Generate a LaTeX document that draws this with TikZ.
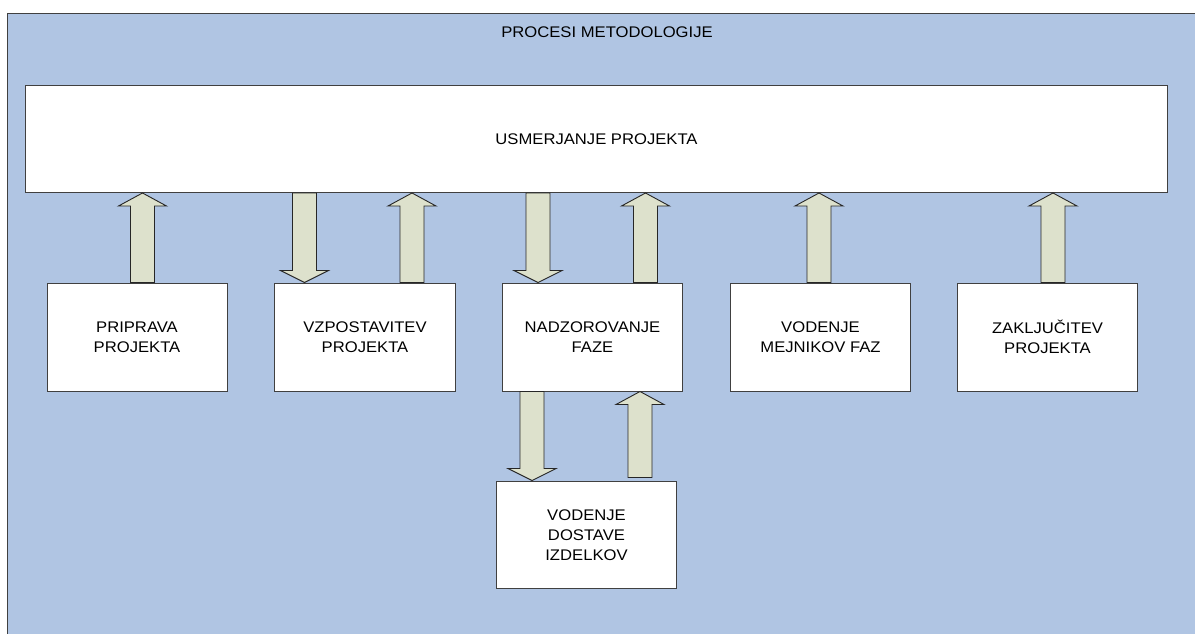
\documentclass[tikz,border=0pt]{standalone}
\usepackage{fontspec}
\setmainfont{Liberation Sans}
\newfontfamily\boxfont[FakeStretch=1.08]{Liberation Sans}
\usetikzlibrary{calc}
\definecolor{bgblue}{RGB}{176,197,227}
\definecolor{arrfill}{RGB}{221,225,204}
\definecolor{edgegray}{RGB}{64,64,64}
\tikzset{
  procbox/.style={draw=edgegray, line width=1pt, fill=white, anchor=north west,
    minimum width=180pt, minimum height=108pt, inner sep=0pt, align=center,
    font=\boxfont\fontsize{15.4pt}{20pt}\selectfont},
  blockarr/.style={draw=black!85, line width=0.9pt, fill=arrfill, line join=miter},
  lbl/.style={font=\boxfont\fontsize{15.4pt}{20pt}\selectfont, inner sep=0pt}
}
% up arrow: #1 x centre, #2 lower anchor, #3 upper anchor (tip)
\newcommand\blockup[3]{%
  \path (#2) coordinate (s) (#3) coordinate (e);
  \draw[blockarr] let \p1=(s), \p2=(e) in
    (#1pt-12pt,\y1) -- (#1pt-12pt,\y2-13pt) -- (#1pt-24pt,\y2-13pt) -- (#1pt,\y2)
    -- (#1pt+24pt,\y2-13pt) -- (#1pt+12pt,\y2-13pt) -- (#1pt+12pt,\y1) -- cycle;}
% down arrow: #1 x centre, #2 upper anchor (start), #3 lower anchor (tip)
\newcommand\blockdown[3]{%
  \path (#2) coordinate (s) (#3) coordinate (e);
  \draw[blockarr] let \p1=(s), \p2=(e) in
    (#1pt-12pt,\y1) -- (#1pt-12pt,\y2+12pt) -- (#1pt-24pt,\y2+12pt) -- (#1pt,\y2)
    -- (#1pt+24pt,\y2+12pt) -- (#1pt+12pt,\y2+12pt) -- (#1pt+12pt,\y1) -- cycle;}
\begin{document}
\begin{tikzpicture}[x=1pt,y=-1pt]
\useasboundingbox (0,0) rectangle (1195,634);
\clip (0,0) rectangle (1195,634);
\fill[white] (0,0) rectangle (1195,634);
% outer frame
\node[draw=edgegray, line width=1.2pt, fill=bgblue, anchor=north west,
  minimum width=1220pt, minimum height=640pt, inner sep=0pt] (frame) at (7,13) {};
\node[lbl] (title) at (607,32.5) {PROCESI METODOLOGIJE};
% top box
\node[procbox, minimum width=1142pt, minimum height=107pt] (top) at (25,85) {USMERJANJE PROJEKTA};
% row boxes
\node[procbox] (b1) at (46.5,282.5) {PRIPRAVA\\PROJEKTA};
\node[procbox, minimum width=181pt] (b2) at (274,282.5) {VZPOSTAVITEV\\PROJEKTA};
\node[procbox] (b3) at (502,282.5) {NADZOROVANJE\\FAZE};
\node[procbox] (b4) at (730,282.5) {VODENJE\\MEJNIKOV FAZ};
\node[procbox] (b5) at (957,282.5) {ZAKLJUČITEV\\PROJEKTA};
\node[procbox, minimum height=107.5pt] (b6) at (496,480.5) {VODENJE\\DOSTAVE\\IZDELKOV};
% arrows
\blockup{142.5}{b1.north}{top.south}
\blockdown{304.5}{top.south}{b2.north}
\blockup{412}{b2.north}{top.south}
\blockdown{538}{top.south}{b3.north}
\blockup{645.5}{b3.north}{top.south}
\blockup{819}{b4.north}{top.south}
\blockup{1053}{b5.north}{top.south}
\blockdown{532}{b3.south}{b6.north}
\coordinate (b6gap) at ($(b6.north)+(0,-3)$);
\blockup{640}{b6gap}{b3.south}
\end{tikzpicture}
\end{document}
